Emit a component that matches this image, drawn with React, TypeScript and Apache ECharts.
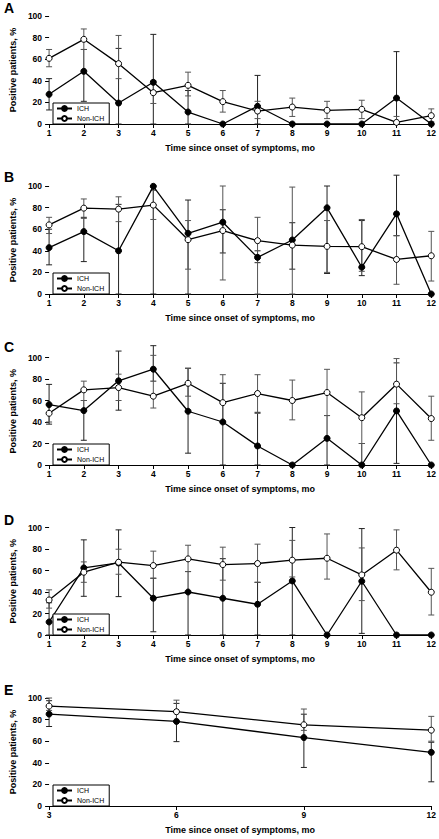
import React, { useEffect, useRef } from 'react';
import * as echarts from 'echarts';

const months = ['1', '2', '3', '4', '5', '6', '7', '8', '9', '10', '11', '12'];
const monthsE = ['3', '6', '9', '12'];
const yTicks = { min: 0, max: 100, interval: 20 };

// Panel A
const aIch = [27.5, 48.8, 19.4, 38.6, 11.1, 0, 16.4, 0, 0, 0, 24, 0];
const aNon = [60.8, 78.4, 55.9, 29, 35.8, 20.7, 12, 15.7, 12.7, 13.6, 1.5, 7.7];
const aIchCI = [[13, 42], [21, 69], [0, 70], [0, 83], [0, 31], null, [0, 45], null, null, null, [0, 67], null];
const aNonCI = [[53, 69], [69, 88], [42, 82], [19, 40], [26, 48], [11, 31], [5, 21], [7, 24], [5, 21], [5, 22], [0, 7], [2, 14]];

// Panel B
const bIch = [42.9, 57.8, 40, 99.7, 56.2, 66.5, 33.9, 50, 79.8, 24.8, 74.2, 0];
const bNon = [64, 79.5, 78.6, 82.3, 50.3, 58.7, 49.4, 45.3, 44.1, 43.8, 32, 35.4];
const bIchCI = [[27, 60], [30, 71], [0, 83], [0, 100], [0, 87], [38, 78], [29, 40], [23, 66], [19, 100], [17, 68], [54, 110], null];
const bNonCI = [[56, 71], [70, 88], [67, 90], [69, 96], [23, 68], [13, 100], [0, 71], [0, 99], [20, 68], [21, 69], [9, 54], [12, 58]];

// Panel C
const cIch = [56.2, 50.6, 78.3, 89.1, 50, 40, 17.7, 0, 24.8, 0, 50.3, 0];
const cNon = [48.1, 69.9, 72, 64, 76, 58, 66.5, 60, 67.4, 44, 75.2, 43.2];
const cIchCI = [[38, 75], [23, 60], [51, 106], [78, 111], [11, 90], [0, 76], [0, 49], null, [0, 46], [0, 20], [1.5, 95], null];
const cNonCI = [[40, 56], [60, 78], [60, 84.5], [53, 102], [64, 90], [40, 84], [48, 84], [42, 79], [46, 89], [20, 68], [57, 99], [23, 64]];

// Panel D
const dIch = [12.1, 62.4, 67, 34.2, 40, 34.2, 28.6, 50.3, 0, 50, 0, 0];
const dNon = [32.6, 58.4, 67.7, 64.6, 70.8, 65.5, 66.5, 69.6, 71.4, 55.9, 78.9, 39.8];
const dIchCI = [[0, 30], [36, 88.5], [35.7, 97.8], [3, 52.8], [0, 59], [0, 71], [0, 49], [0, 100], null, [1.5, 99], null, null];
const dNonCI = [[25, 42], [49, 68], [56.5, 79.8], [52.8, 78], [59, 83.5], [51, 81.7], [49, 84.5], [54, 88], [52, 94], [32, 81], [60.6, 97.8], [18.6, 62]];

// Panel E
const eIch = [85.1, 78.3, 63.4, 49.7];
const eNon = [92.5, 87.3, 75.2, 70.2];
const eIchCI = [[73.6, 97.5], [59.6, 95], [35.7, 85], [22.4, 59]];
const eNonCI = [[88.5, 100], [78, 98], [70, 89.8], [60, 83]];

const FONT = '"Liberation Sans", Arial, Helvetica, sans-serif';

type CI = (number[] | null)[];
type Panel = {
  letter: string;
  cats: string[];
  ich: number[];
  non: number[];
  ichCI: CI;
  nonCI: CI;
  top: number;
  height: number;
  letterTop: number;
};

const panels: Panel[] = [
  { letter: 'A', cats: months, ich: aIch, non: aNon, ichCI: aIchCI, nonCI: aNonCI, top: 16, height: 108, letterTop: 3 },
  { letter: 'B', cats: months, ich: bIch, non: bNon, ichCI: bIchCI, nonCI: bNonCI, top: 186, height: 108, letterTop: 172 },
  { letter: 'C', cats: months, ich: cIch, non: cNon, ichCI: cIchCI, nonCI: cNonCI, top: 357.5, height: 107.5, letterTop: 341.5 },
  { letter: 'D', cats: months, ich: dIch, non: dNon, ichCI: dIchCI, nonCI: dNonCI, top: 527.5, height: 107.5, letterTop: 515 },
  { letter: 'E', cats: monthsE, ich: eIch, non: eNon, ichCI: eIchCI, nonCI: eNonCI, top: 698, height: 108, letterTop: 685 },
];

const makeErr = (color: string) => (_params: any, api: any) => {
  const x = api.value(0);
  const lo = api.coord([x, api.value(1)]);
  const hi = api.coord([x, api.value(2)]);
  const w = 3;
  const style = { stroke: color, lineWidth: 1 };
  return {
    type: 'group',
    children: [
      { type: 'line', shape: { x1: lo[0], y1: lo[1], x2: hi[0], y2: hi[1] }, style },
      { type: 'line', shape: { x1: hi[0] - w, y1: hi[1], x2: hi[0] + w, y2: hi[1] }, style },
      { type: 'line', shape: { x1: lo[0] - w, y1: lo[1], x2: lo[0] + w, y2: lo[1] }, style },
    ],
  };
};

const ciData = (ci: CI) =>
  ci.map((r, i) => (r ? [i, r[0], r[1]] : null)).filter((d) => d !== null) as number[][];

export default function App() {
  const ref = useRef<HTMLDivElement>(null);
  useEffect(() => {
    document.body.style.margin = '0';
    const chart = echarts.init(ref.current!, null, { renderer: 'svg' });

    const grid: any[] = [];
    const xAxis: any[] = [];
    const yAxis: any[] = [];
    const series: any[] = [];
    const legend: any[] = [];
    const graphic: any[] = [];

    panels.forEach((p, i) => {
      grid.push({ left: 45, right: 6, top: p.top, height: p.height, containLabel: false });
      xAxis.push({
        type: 'category',
        gridIndex: i,
        data: p.cats,
        boundaryGap: false,
        name: 'Time since onset of symptoms, mo',
        nameLocation: 'middle',
        nameGap: 19,
        nameTextStyle: { fontFamily: FONT, fontWeight: 'bold', fontSize: 9, color: '#000' },
        axisLine: { show: true, lineStyle: { color: '#000', width: 1 } },
        axisTick: { show: true, length: 4, alignWithLabel: true, lineStyle: { color: '#000' } },
        axisLabel: { fontFamily: FONT, fontWeight: 'bold', fontSize: 8.5, color: '#000', margin: 4 },
        splitLine: { show: false },
      });
      yAxis.push({
        type: 'value',
        gridIndex: i,
        ...yTicks,
        name: 'Positive patients, %',
        nameLocation: 'middle',
        nameRotate: 90,
        nameGap: 30,
        nameTextStyle: { fontFamily: FONT, fontWeight: 'bold', fontSize: 9, color: '#000' },
        axisLine: { show: false },
        axisTick: { show: true, length: 4, lineStyle: { color: '#000' } },
        axisLabel: { fontFamily: FONT, fontWeight: 'bold', fontSize: 8.5, color: '#000', margin: 7 },
        splitLine: { show: false },
      });
      series.push({
        type: 'custom',
        name: 'ICH error',
        xAxisIndex: i,
        yAxisIndex: i,
        renderItem: makeErr('#222'),
        data: ciData(p.ichCI),
        encode: { x: 0, y: [1, 2] },
        clip: false,
        z: 1,
        silent: true,
      });
      series.push({
        type: 'custom',
        name: 'Non-ICH error',
        xAxisIndex: i,
        yAxisIndex: i,
        renderItem: makeErr('#555'),
        data: ciData(p.nonCI),
        encode: { x: 0, y: [1, 2] },
        clip: false,
        z: 1,
        silent: true,
      });
      series.push({
        type: 'line',
        name: 'ICH',
        xAxisIndex: i,
        yAxisIndex: i,
        data: p.ich,
        symbol: 'circle',
        symbolSize: 6,
        lineStyle: { color: '#000', width: 1.3 },
        itemStyle: { color: '#000', borderColor: '#000', borderWidth: 1 },
        clip: false,
        z: 3,
      });
      series.push({
        type: 'line',
        name: 'Non-ICH',
        xAxisIndex: i,
        yAxisIndex: i,
        data: p.non,
        symbol: 'circle',
        symbolSize: 6,
        lineStyle: { color: '#000', width: 1.3 },
        itemStyle: { color: '#fff', borderColor: '#000', borderWidth: 1 },
        clip: false,
        z: 4,
      });
      legend.push({
        orient: 'vertical',
        left: 53,
        top: p.top + p.height - 21,
        data: ['ICH', 'Non-ICH'],
        itemWidth: 15,
        itemHeight: 6,
        itemGap: 3,
        padding: [2, 5, 2, 3],
        borderColor: '#000',
        borderWidth: 1,
        borderRadius: 0,
        backgroundColor: '#fff',
        selectedMode: false,
        textStyle: { fontFamily: FONT, fontSize: 7, color: '#000' },
      });
      graphic.push({
        type: 'text',
        left: 4,
        top: p.letterTop - 2,
        style: { text: p.letter, font: `bold 14px ${FONT}`, fill: '#000' },
      });
    });

    chart.setOption({
      animation: false,
      backgroundColor: '#fff',
      grid,
      xAxis,
      yAxis,
      series,
      legend,
      graphic,
    });
    return () => chart.dispose();
  }, []);
  return <div ref={ref} style={{ width: 439, height: 839 }} />;
}
